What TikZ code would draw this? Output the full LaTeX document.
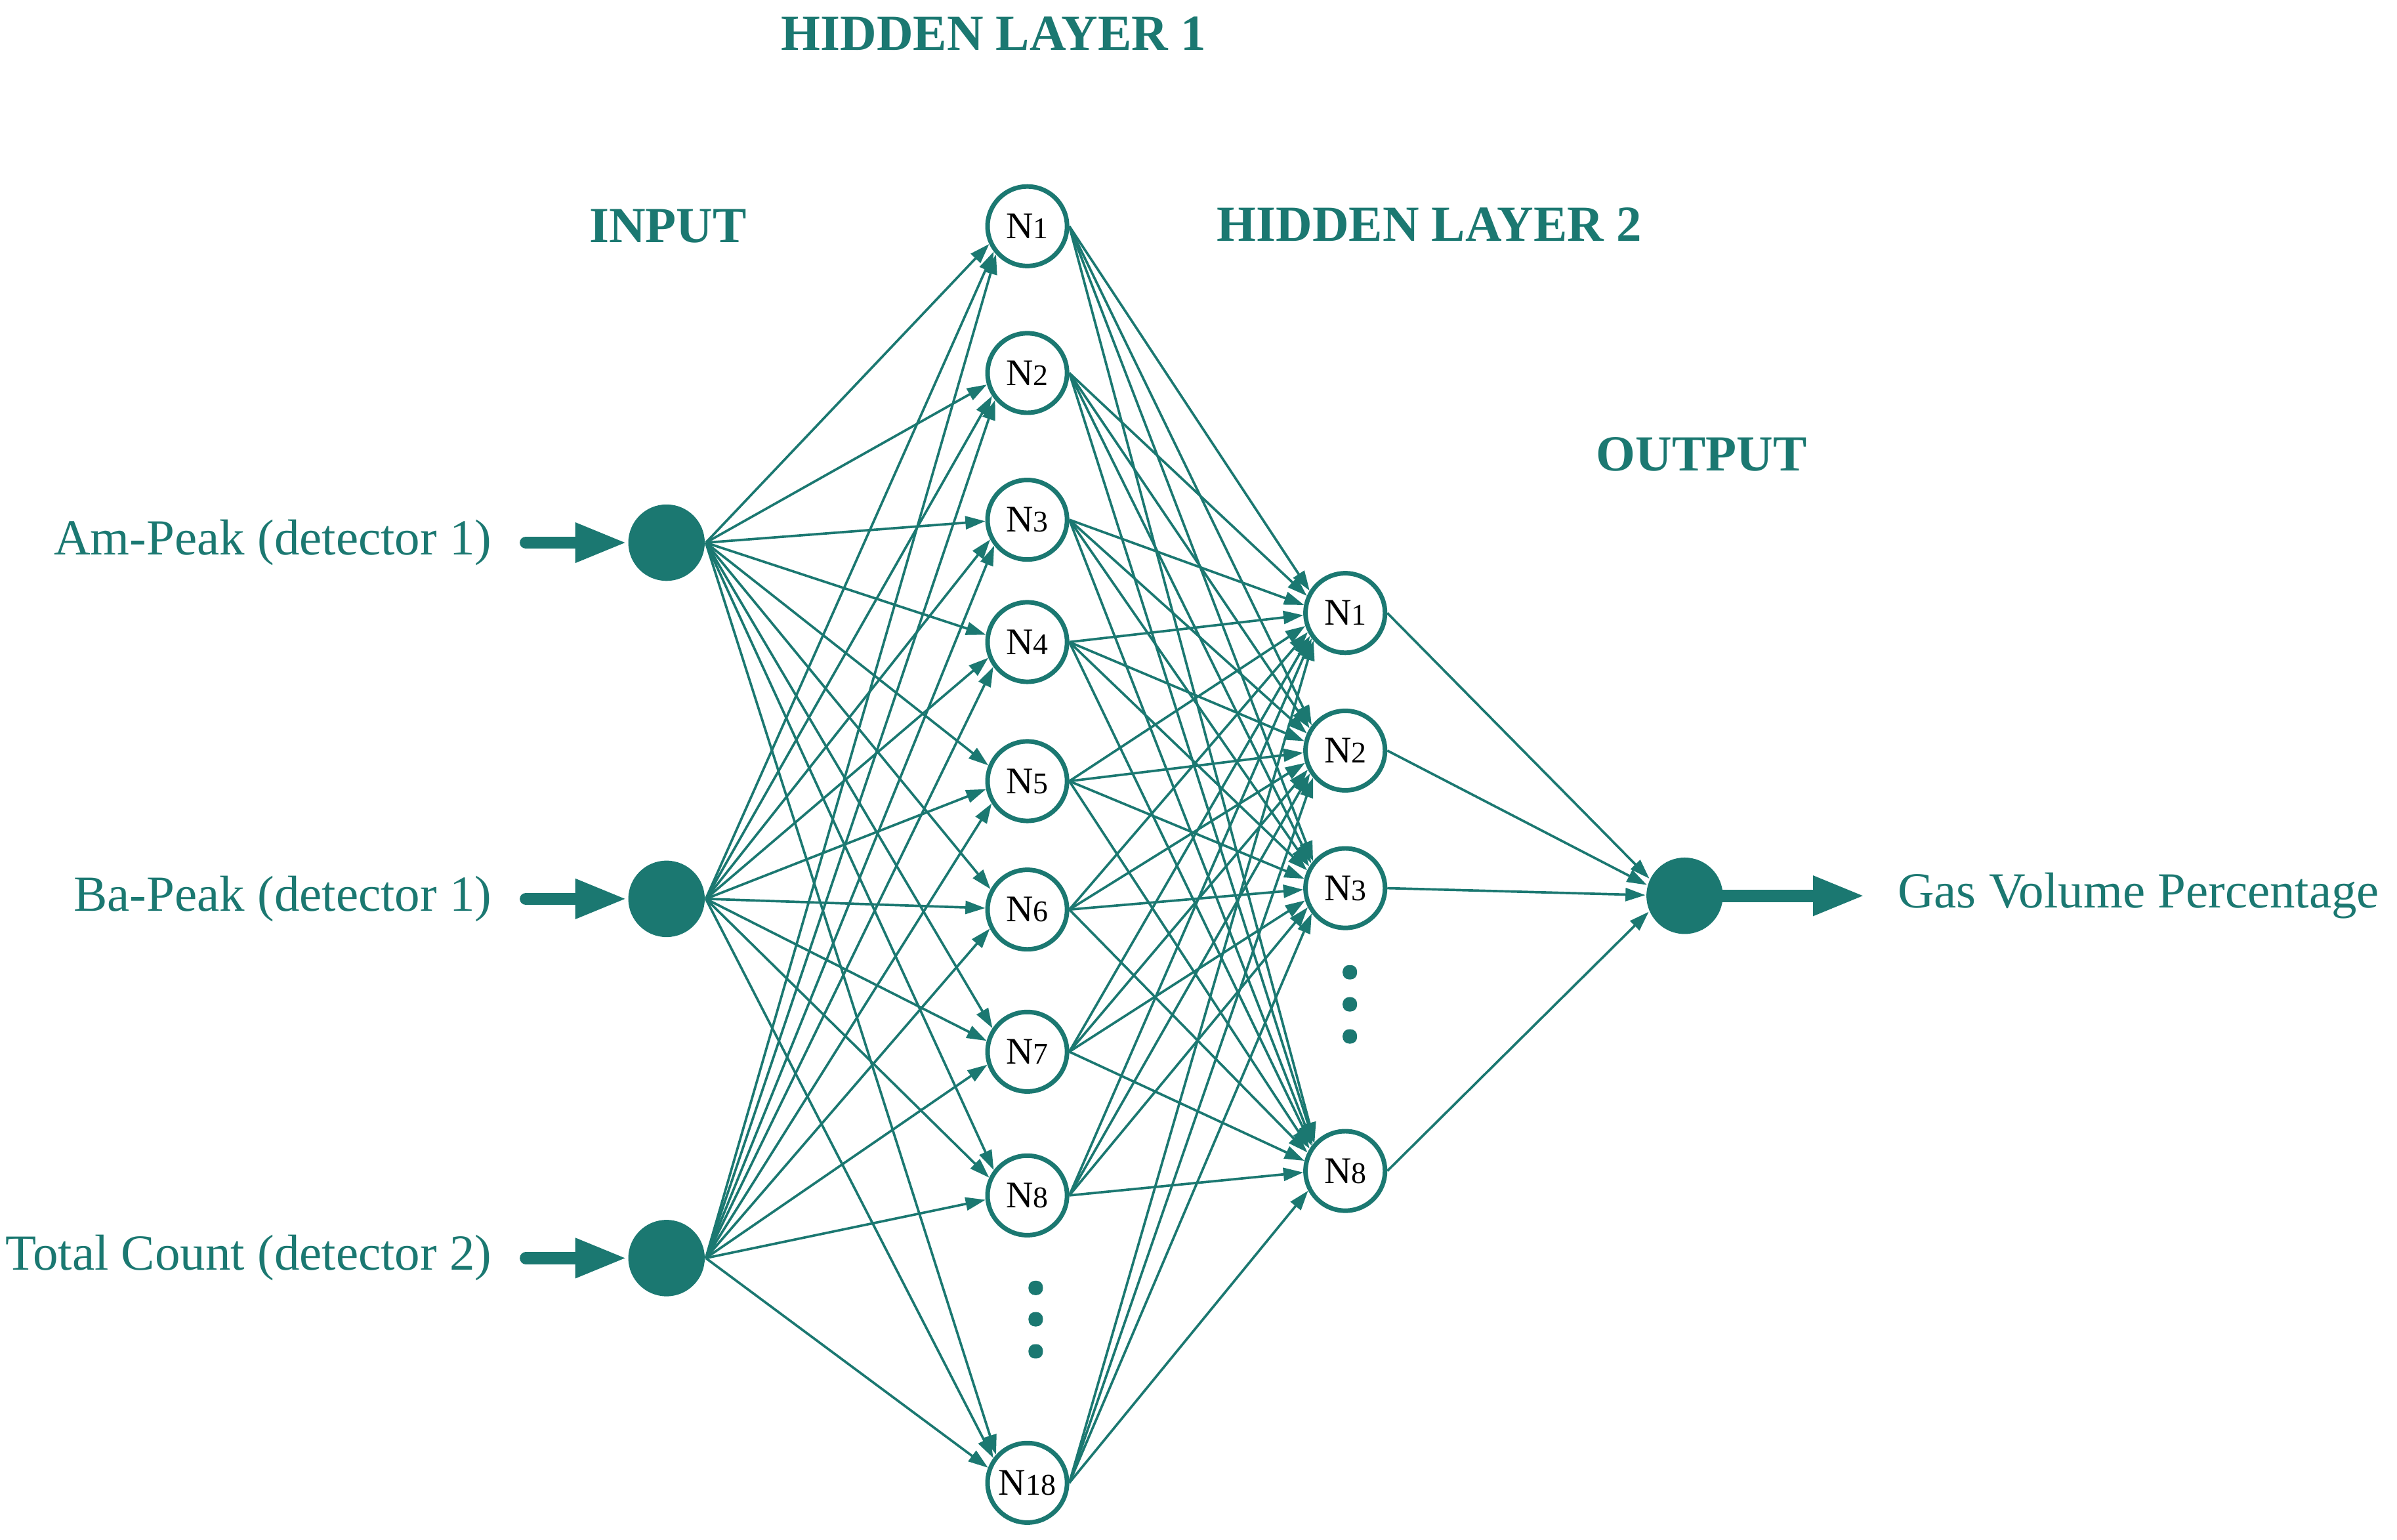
\documentclass[tikz,border=0pt]{standalone}
\usepackage{fontspec}
\setmainfont{Liberation Serif}
\usetikzlibrary{arrows.meta,calc}
\definecolor{netteal}{RGB}{27,120,113}
\newcommand{\unitno}[1]{{\fontsize{5.6}{6}\selectfont #1}}

\begin{document}
\begin{tikzpicture}[x=1cm, y=1cm,
    unit/.style={circle, draw=netteal, line width=0.85pt, fill=white,
                 minimum size=0.52cm, inner sep=0pt, font=\fontsize{7}{8}\selectfont},
    term/.style={circle, fill=netteal, minimum size=0.5cm, inner sep=0pt},
    layertitle/.style={font=\fontsize{9.4}{11}\selectfont\bfseries, text=netteal},
    varlabel/.style={font=\fontsize{9.4}{11}\selectfont, text=netteal},
    link/.style={draw=netteal, line width=0.45pt,
                 -{Triangle[length=0.13cm, width=0.085cm]}},
    feed/.style={draw=netteal, line width=0.08cm, line cap=round,
                 -{Triangle[length=0.34cm, width=0.24cm]}}]

  \useasboundingbox (0,0) rectangle (15.68,10.07);

  % layer titles
  \node[layertitle] (t-h1)  at (6.50,9.85)  {HIDDEN LAYER 1};
  \node[layertitle] (t-in)  at (4.37,8.59)  {INPUT};
  \node[layertitle] (t-h2)  at (9.35,8.60)  {HIDDEN LAYER 2};
  \node[layertitle] (t-out) at (11.13,7.10) {OUTPUT};

  % input layer
  \foreach \i/\y/\txt in {1/6.52/Am-Peak (detector 1),
                          2/4.19/Ba-Peak (detector 1),
                          3/1.84/Total Count (detector 2)} {
    \node[term] (in-\i) at (4.36,\y) {};
    \node[varlabel, anchor=east] (lab-\i) at (3.34,\y) {\txt};
    \draw[feed, shorten <=0.1cm] (lab-\i.east) -- (in-\i.west);
  }

  % hidden layer 1
  \foreach \k/\y in {1/8.59, 2/7.63, 3/6.67, 4/5.87, 5/4.96,
                     6/4.12, 7/3.19, 8/2.25, 18/0.37}
    \node[unit] (h1-\k) at (6.72,\y) {N\unitno{\k}};
  \foreach \y in {1.645, 1.44, 1.23}
    \fill[netteal, rounded corners=1.2pt] (6.728,\y-0.047) rectangle ++(0.094,0.094);

  % hidden layer 2
  \foreach \j/\y in {1/6.06, 2/5.16, 3/4.26, 8/2.41}
    \node[unit] (h2-\j) at (8.80,\y) {N\unitno{\j}};
  \foreach \y in {3.71, 3.50, 3.29}
    \fill[netteal, rounded corners=1.2pt] (8.783,\y-0.047) rectangle ++(0.094,0.094);

  % output
  \node[term] (out) at (11.02,4.21) {};
  \node[varlabel, anchor=west] (gvp) at (12.29,4.21) {Gas Volume Percentage};
  \draw[feed, shorten >=0.09cm] (out.center) -- (gvp.west);

  % weights (tips pulled towards the west side of each unit)
  \tikzset{weight/.style 2 args={insert path={
      let \p1=(#1.east), \p2=(#2.center),
          \n1={mod(atan2(\y1-\y2,\x1-\x2)+360,360)},
          \n2={180+0.58*(\n1-180)} in
      (#1.east) edge[link] (#2.\n2)}}}
  \foreach \i in {1,2,3}
    \foreach \k in {1,2,3,4,5,6,7,8,18}
      \path[weight={in-\i}{h1-\k}];
  \foreach \k in {1,2,3,4,5,6,7,8,18}
    \foreach \j in {1,2,3,8}
      \path[weight={h1-\k}{h2-\j}];
  \foreach \j in {1,2,3,8}
    \path[weight={h2-\j}{out}];
\end{tikzpicture}
\end{document}
